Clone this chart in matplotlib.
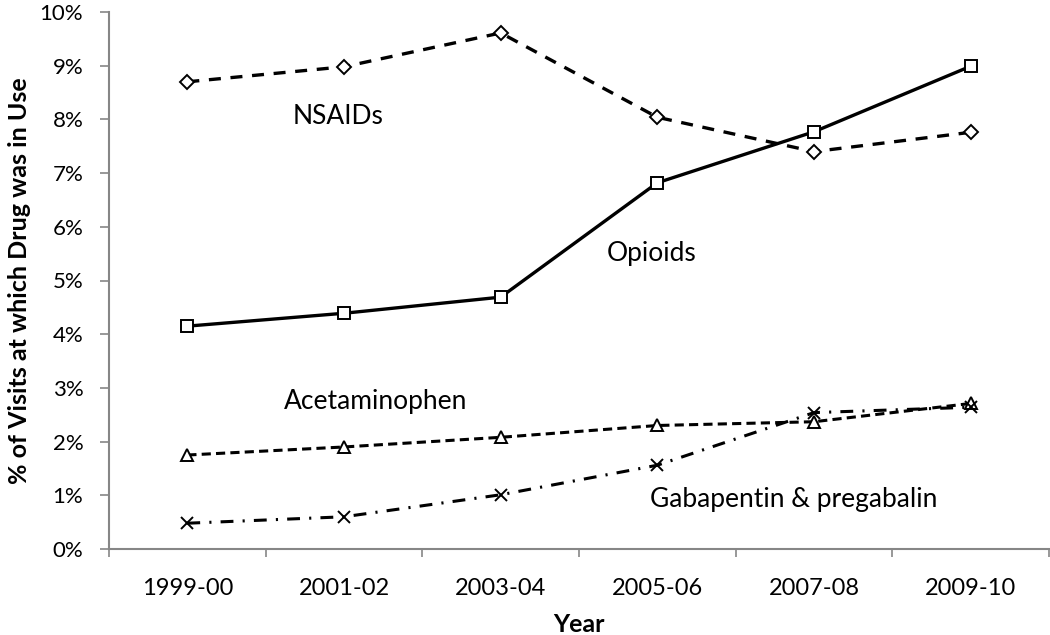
import matplotlib
matplotlib.use("Agg")
import matplotlib.pyplot as plt
from matplotlib.ticker import FixedLocator, PercentFormatter

years = ["1999-00", "2001-02", "2003-04", "2005-06", "2007-08", "2009-10"]
nsaids = [8.70, 8.98, 9.61, 8.04, 7.40, 7.76]
opioids = [4.15, 4.39, 4.69, 6.82, 7.77, 8.99]
acetaminophen = [1.75, 1.90, 2.08, 2.30, 2.37, 2.71]
gabapentin = [0.48, 0.60, 1.01, 1.56, 2.54, 2.64]

font = ["Lato", "DejaVu Sans"]
plt.rcParams['font.family'] = font

W, H = 1050, 635
fig = plt.figure(figsize=(W / 100, H / 100), dpi=100)
ax = fig.add_axes([109 / W, 1 - 549 / H, (1049 - 109) / W, (549 - 12) / H])
x = list(range(len(years)))

ax.plot(x, nsaids, color="black", lw=2.4, dashes=(3.6, 2.9), marker="D", ms=7,
        mfc="white", mec="black", mew=1.4, zorder=3)
ax.plot(x, opioids, color="black", lw=2.4, ls="-", marker="s", ms=8.5,
        mfc="white", mec="black", mew=1.4, zorder=3)
ax.plot(x, acetaminophen, color="black", lw=2.2, dashes=(3, 1.7), marker="^", ms=8,
        mfc="white", mec="black", mew=1.4, zorder=3)
ax.plot(x, gabapentin, color="black", lw=2.2, dashes=(4.2, 3, 0.7, 3), marker="x", ms=8,
        mec="black", mew=1.4, zorder=3)

labels = [("NSAIDs", 338, 117), ("Opioids", 652, 253),
          ("Acetaminophen", 376, 402), ("Gabapentin & pregabalin", 794, 500)]
for txt, px, py in labels:
    fig.text(px / W, 1 - py / H, txt, fontsize=19, ha="center", va="center")

ax.set_xlim(-0.5, len(years) - 0.5)
ax.set_ylim(0, 10)
ax.yaxis.set_major_locator(FixedLocator(list(range(0, 11))))
ax.yaxis.set_major_formatter(PercentFormatter(decimals=0))
ax.set_xticks(x)
ax.set_xticklabels(years)
ax.xaxis.set_minor_locator(FixedLocator([i + 0.5 for i in range(-1, len(years))]))
ax.tick_params(axis="x", which="major", length=0, pad=21, labelsize=17)
ax.tick_params(axis="x", which="minor", length=6, width=1.2, color="#868686", direction="out")
ax.tick_params(axis="y", which="major", length=6.5, width=1.2, color="#868686", direction="out",
               labelsize=16, pad=12)

for s in ["top", "right"]:
    ax.spines[s].set_visible(False)
for s in ["left", "bottom"]:
    ax.spines[s].set_color("#868686")
    ax.spines[s].set_linewidth(1.5)

ax.set_xlabel("Year", fontsize=18, fontweight="bold", labelpad=10)
ax.set_ylabel("% of Visits at which Drug was in Use", fontsize=18, fontweight="bold", labelpad=6)

fig.savefig("out.png", dpi=100)
